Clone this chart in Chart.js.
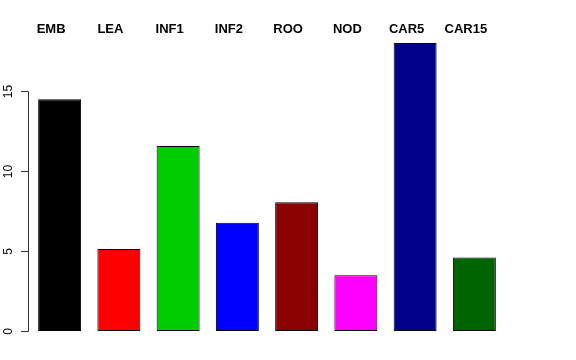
<!DOCTYPE html>
<html>
<head>
<meta charset="utf-8">
<script src="https://cdn.jsdelivr.net/npm/chart.js@4"></script>
<style>
html,body{margin:0;padding:0;background:#fff;}
canvas{display:block;}
</style>
</head>
<body>
<canvas id="c" width="576" height="360"></canvas>
<script>
const categories = ["EMB", "LEA", "INF1", "INF2", "ROO", "NOD", "CAR5", "CAR15"];
const values = [14.48, 5.13, 11.56, 6.76, 8.04, 3.48, 18.0, 4.6];
const barColors = ["#000000", "#FF0000", "#00CD00", "#0000FF", "#8B0000", "#FF00FF", "#00008B", "#006400"];
const yTicks = [0, 5, 10, 15];

const decor = {
  id: 'decor',
  afterDraw(chart) {
    const ctx = chart.ctx;
    const y = chart.scales.y;
    const x = chart.scales.x;
    ctx.save();
    // y axis
    ctx.strokeStyle = '#333333';
    ctx.lineWidth = 1;
    const ax = 28.5;
    ctx.beginPath();
    ctx.moveTo(ax, Math.round(y.getPixelForValue(yTicks[0])) + 0.5);
    ctx.lineTo(ax, Math.round(y.getPixelForValue(yTicks[yTicks.length - 1])) + 0.5);
    ctx.stroke();
    ctx.fillStyle = '#000';
    ctx.font = '12px "Liberation Sans", Arial, sans-serif';
    ctx.textAlign = 'center';
    ctx.textBaseline = 'middle';
    yTicks.forEach(t => {
      const py = Math.round(y.getPixelForValue(t)) + 0.5;
      ctx.beginPath();
      ctx.moveTo(ax, py);
      ctx.lineTo(21, py);
      ctx.stroke();
      ctx.save();
      ctx.translate(9, py);
      ctx.rotate(-Math.PI / 2);
      ctx.fillText(String(t), 0, 0);
      ctx.restore();
    });
    // category labels on top
    ctx.font = 'bold 13px "Liberation Sans", Arial, sans-serif';
    ctx.textBaseline = 'middle';
    categories.forEach((c, i) => {
      ctx.fillText(c, x.getPixelForValue(i) - 8.5, 29.5);
    });
    ctx.restore();
  }
};

new Chart(document.getElementById('c'), {
  type: 'bar',
  data: {
    labels: categories,
    datasets: [{
      data: values,
      backgroundColor: barColors,
      borderColor: '#000000',
      borderWidth: 1,
      borderSkipped: false,
      categoryPercentage: 1,
      barPercentage: 0.725
    }]
  },
  options: {
    responsive: false,
    animation: false,
    events: [],
    layout: { padding: { left: 30, right: 72, top: 27, bottom: 29 } },
    plugins: { legend: { display: false }, tooltip: { enabled: false } },
    scales: {
      x: { display: false },
      y: { display: false, min: 0, max: 19 }
    }
  },
  plugins: [decor]
});
</script>
</body>
</html>
